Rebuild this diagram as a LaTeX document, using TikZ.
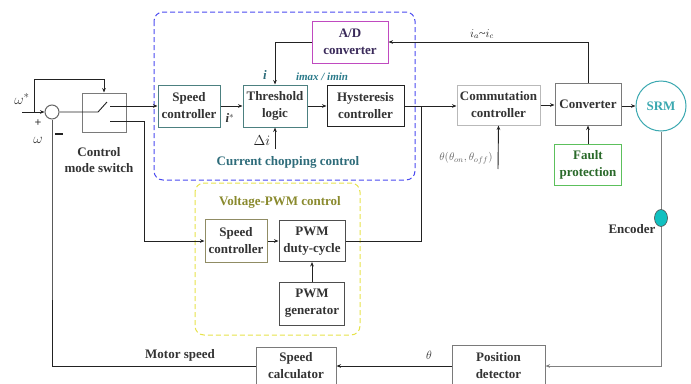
\documentclass[tikz,border=0pt]{standalone}
\usepackage{fontspec}
\setmainfont{Liberation Serif}
\usetikzlibrary{arrows.meta,calc,shapes.geometric}
\definecolor{txt}{HTML}{333333}
\definecolor{boxgray}{HTML}{7A7A7A}
\definecolor{linecol}{HTML}{222222}
\definecolor{chopblue}{HTML}{4A4AF0}
\definecolor{pwmyellow}{HTML}{E6E24A}
\definecolor{chopteal}{HTML}{2E6C7A}
\definecolor{pwmolive}{HTML}{8A8A2E}
\definecolor{admag}{HTML}{C04AC0}
\definecolor{adtxt}{HTML}{3A2A5A}
\definecolor{faultgreen}{HTML}{5CC05C}
\definecolor{faulttxt}{HTML}{2A6A2A}
\definecolor{srmteal}{HTML}{3AA8B0}
\definecolor{enccol}{HTML}{10C0C0}
\definecolor{labteal}{HTML}{2A7A8A}
\begin{document}
\begin{tikzpicture}[x=1pt,y=-1pt,
  box/.style={draw=boxgray, line width=1pt, fill=white, inner sep=0pt,
    font=\fontsize{13}{17}\selectfont\bfseries, text=txt, align=center},
  lab/.style={font=\fontsize{13}{15}\selectfont\bfseries, text=txt, inner sep=0pt},
  conn/.style={line width=0.9pt, draw=linecol},
  arr/.style={conn, -{Stealth[length=4.5pt,width=3.6pt]}},
  fb/.style={line width=0.8pt, draw=gray}
]
\useasboundingbox (0,0) rectangle (691,383);

% frames
\draw[chopblue, line width=1pt, dash pattern=on 5pt off 3pt, rounded corners=9pt] (154,12) rectangle (415,180);
\draw[pwmyellow, line width=1pt, dash pattern=on 5pt off 3pt, rounded corners=9pt] (195,183) rectangle (360,335);

% blocks
\node[box, minimum width=44pt, minimum height=39pt] (csw) at (104,112.5) {};
\node[box, draw=gray!60!teal, minimum width=62pt, minimum height=42pt] (sc1) at (189,106) {Speed\\controller};
\node[box, draw=gray!60!teal, minimum width=64pt, minimum height=42pt] (thr) at (275,106) {Threshold\\logic};
\node[box, draw=linecol, minimum width=77pt, minimum height=41pt] (hys) at (365.5,106) {Hysteresis\\controller};
\node[box, draw=admag, text=adtxt, minimum width=76pt, minimum height=42pt] (ad) at (350,42) {A/D\\converter};
\node[box, draw=gray!55, minimum width=83pt, minimum height=40pt] (com) at (498.5,105) {Commutation\\controller};
\node[box, minimum width=66pt, minimum height=42pt] (conv) at (588,104) {Converter};
\node[box, draw=faultgreen, text=faulttxt, minimum width=67pt, minimum height=41pt] (fault) at (588,164.5) {Fault\\protection};
\node[draw=srmteal, line width=1pt, fill=white, circle, minimum size=50pt, inner sep=0pt,
  font=\fontsize{13}{15}\selectfont\bfseries, text=srmteal] (srm) at (661,106) {SRM};
\node[box, draw=gray!70!olive, minimum width=62pt, minimum height=43pt] (sc2) at (236,241) {Speed\\controller};
\node[box, draw=linecol!80, minimum width=66pt, minimum height=41pt] (pwmd) at (312,241) {PWM\\duty-cycle};
\node[box, draw=linecol!80, minimum width=65pt, minimum height=43pt] (pwmg) at (312,303.5) {PWM\\generator};
\node[box, minimum width=93pt, minimum height=42pt] (posd) at (498.5,366) {Position\\detector};
\node[box, minimum width=80pt, minimum height=38pt] (spc) at (296,366) {Speed\\calculator};

% summing junction
\node[draw=gray!80!black, line width=1pt, fill=white, circle, minimum size=14pt, inner sep=0pt] (sum) at (52,112) {};

% labels
\node[inner sep=0pt, text=txt, font=\fontsize{15}{17}\selectfont] (wref) at (22,99) {$\omega^{*}$};
\node[inner sep=0pt, text=txt, font=\fontsize{12}{13}\selectfont\bfseries] (plus) at (38,123) {+};
\node[inner sep=0pt, text=txt, font=\fontsize{14}{16}\selectfont] (wfb) at (38,140) {$\omega$};
\node[inner sep=0pt, fill=linecol, minimum width=8pt, minimum height=2pt] (minus) at (59,134) {};
\node[lab, align=center, font=\fontsize{13}{16}\selectfont\bfseries] (cmsl) at (99,160) {Control\\mode switch};
\node[lab, text=chopteal] (chopl) at (288,162) {Current chopping control};
\node[lab, text=pwmolive] (pwml) at (280,202) {Voltage-PWM control};
\node[inner sep=0pt, text=chopteal, font=\fontsize{13}{14}\selectfont\bfseries\itshape] (il) at (265,75) {i};
\node[inner sep=0pt, text=labteal, font=\fontsize{11}{13}\selectfont\bfseries\itshape] (imaxl) at (322,77) {imax / imin};
\node[inner sep=0pt, text=txt, font=\fontsize{13}{14}\selectfont\bfseries\itshape] (istarl) at (230,118) {i$^{*}$};
\node[inner sep=0pt, text=linecol, font=\fontsize{15}{16}\selectfont] (dil) at (262,141) {$\Delta i$};
\node[inner sep=0pt, text=linecol, font=\fontsize{12}{14}\selectfont] (iacl) at (482,34) {$i_a$\textasciitilde$i_c$};
\node[inner sep=0pt, text=gray!80!black, font=\fontsize{11}{13}\selectfont] (thl) at (466,158) {$\theta(\theta_{on},\theta_{off})$};
\node[lab] (encl) at (632,229) {Encoder};
\node[lab] (msl) at (180,355) {Motor speed};
\node[inner sep=0pt, text=txt, font=\fontsize{12}{14}\selectfont] (th2l) at (429,355) {$\theta$};

% coordinates
\coordinate (in0) at (22,112);
\coordinate (br) at (34,112);
\coordinate (swa) at (98,112);
\coordinate (swb) at (107,102);
\coordinate (swu) at (110,106);
\coordinate (swl) at (110,121);
\coordinate (swlr) at (144,121);
\coordinate (di0) at (275,149);
\coordinate (th0) at (498,169);
\coordinate (jn) at (421,106);
\coordinate (enc) at (661,218);
\coordinate (fbc) at (52,300);

% connectors
\draw[arr] (in0) -- (sum.west);
\draw[arr] (br) |- (34,79) -| (csw.north);
\draw[conn] (sum.east) -- (swa) -- (swb);
\draw[arr] (swu) -- (sc1.west|-swu);
\draw[arr] (swl) -- (swlr) |- (sc2.west);
\draw[arr] (sc1.east) -- (thr.west);
\draw[arr] (thr.east) -- (hys.west);
\draw[arr] (di0) -- (thr.south);
\draw[arr] (ad.west) -| (thr.north);
\draw[arr] (hys.east) -- (com.west|-hys.east);
\draw[arr] (com.east) -- (conv.west|-com.east);
\draw[arr] (conv.east|-srm.west) -- (srm.west);
\draw[arr] (conv.north) |- (ad.east);
\draw[arr] (fault.north) -- (conv.south);
\draw[arr] (th0) -- (com.south);
\draw[arr] (sc2.east) -- (pwmd.west);
\draw[arr] (pwmg.north) -- (pwmd.south);
\draw[conn] (pwmd.east) -| (jn);
\draw[fb] (srm.south) -- (enc);
\draw[fb, -{Stealth[length=4.5pt,width=3.6pt]}] (enc) |- (posd.east);
\draw[arr] (posd.west) -- (spc.east);
\draw[conn] (spc.west) -| (fbc);
\draw[fb, draw=gray!70!black] (fbc) -- (sum.south);

% encoder
\node[draw=linecol!80, line width=0.6pt, fill=enccol, ellipse, minimum width=13pt, minimum height=17pt, inner sep=0pt] (encd) at (enc) {};
\end{tikzpicture}
\end{document}
